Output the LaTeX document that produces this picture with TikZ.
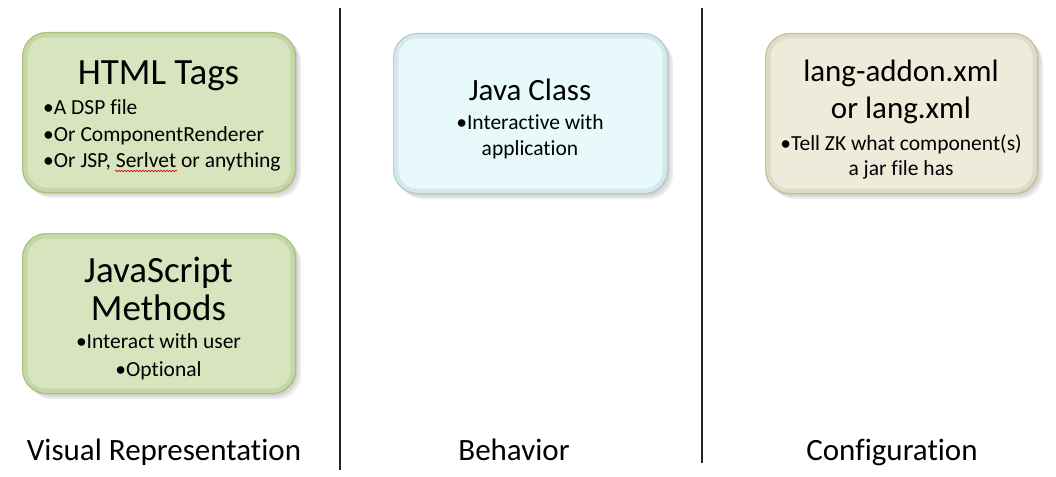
\documentclass[tikz,border=0pt]{standalone}
\usepackage{fontspec}
\setmainfont{Carlito}[Ligatures=NoCommon]
\usetikzlibrary{decorations.pathmorphing,calc}
\definecolor{gfill}{HTML}{D7E4BD}
\definecolor{grim}{HTML}{A9C17F}
\definecolor{bfill}{HTML}{E8F9FB}
\definecolor{brim}{HTML}{B3CDD3}
\definecolor{yfill}{HTML}{EEEBDB}
\definecolor{yrim}{HTML}{C6BE9E}
\begin{document}
\begin{tikzpicture}[x=1pt,y=-1pt,
  card/.style={rounded corners=24pt, line width=1.2pt, anchor=north west,
    inner sep=0pt, minimum width=273pt, minimum height=160pt},
  shadowbox/.style={rounded corners=24pt, fill=black, opacity=0.07},
  bevel/.style={rounded corners=21pt, line width=5pt, opacity=0.35},
  bigtitle/.style={anchor=base, inner sep=0pt, font=\fontsize{37}{40}\selectfont},
  midtitle/.style={anchor=base, inner sep=0pt, font=\fontsize{31}{34}\selectfont},
  bul/.style={anchor=base, inner sep=0pt, font=\fontsize{21.5}{24}\selectfont},
  bulw/.style={anchor=base west, inner sep=0pt, font=\fontsize{21.5}{24}\selectfont},
  caption/.style={anchor=base, inner sep=0pt, font=\fontsize{31}{34}\selectfont},
  divider/.style={line width=1.6pt, draw=black!85}
]
\useasboundingbox (0,0) rectangle (1056,476);
\fill[white] (0,0) rectangle (1056,476);

% shadows
\foreach \dx in {2,4,6} {
  \fill[shadowbox] (22+\dx,32+\dx) rectangle (295+\dx,192+\dx);
  \fill[shadowbox] (22+\dx,233+\dx) rectangle (295+\dx,393+\dx);
  \fill[shadowbox] (393+\dx,33+\dx) rectangle (667+\dx,193+\dx);
  \fill[shadowbox] (765+\dx,33+\dx) rectangle (1037+\dx,193+\dx);
}

% cards
\node[card, fill=gfill, draw=grim] (html) at (22,32) {};
\node[card, fill=gfill, draw=grim] (js) at (22,233) {};
\node[card, fill=bfill, draw=brim, minimum width=274pt] (java) at (393,33) {};
\node[card, fill=yfill, draw=yrim, minimum width=272pt] (lang) at (765,33) {};

% bevel rims
\draw[bevel, draw=grim] ($(html.north west)+(3,3)$) rectangle ($(html.south east)+(-3,-3)$);
\draw[bevel, draw=grim] ($(js.north west)+(3,3)$) rectangle ($(js.south east)+(-3,-3)$);
\draw[bevel, draw=brim] ($(java.north west)+(3,3)$) rectangle ($(java.south east)+(-3,-3)$);
\draw[bevel, draw=yrim] ($(lang.north west)+(3,3)$) rectangle ($(lang.south east)+(-3,-3)$);

% HTML Tags
\node[bigtitle] (htmlt) at (158.5,85) {HTML Tags};
\node[bulw] (h1) at (43,114) {•A DSP file};
\node[bulw] (h2) at (43,141) {•Or ComponentRenderer};
\node[bulw] (h3) at (43,167) {•Or JSP, Serlvet or anything};
\draw[red!85!black, line width=0.6pt, decorate,
  decoration={snake, amplitude=0.8pt, segment length=3pt}] (115,171) -- (177,171);

% JavaScript Methods
\node[bigtitle] (jst1) at (158.5,282) {JavaScript};
\node[bigtitle] (jst2) at (158.5,320) {Methods};
\node[bul] (j1) at (158.5,348) {•Interact with user};
\node[bul] (j2) at (158.5,376) {•Optional};

% Java Class
\node[midtitle] (javat) at (530,100) {Java Class};
\node[bul] (v1) at (530,129) {•Interactive with};
\node[bul] (v2) at (530,155) {application};

% lang-addon
\node[midtitle] (langt1) at (901,82) {lang-addon.xml};
\node[midtitle] (langt2) at (901,118) {or lang.xml};
\node[bul] (l1) at (901,150) {•Tell ZK what component(s)};
\node[bul] (l2) at (901,175) {a jar file has};

% dividers
\draw[divider] (340,8) -- (340,470);
\draw[divider] (702,8) -- (702,463);

% captions
\node[caption] (c1) at (164,460) {Visual Representation};
\node[caption] (c2) at (514,460) {Behavior};
\node[caption] (c3) at (892,460) {Configuration};
\end{tikzpicture}
\end{document}
